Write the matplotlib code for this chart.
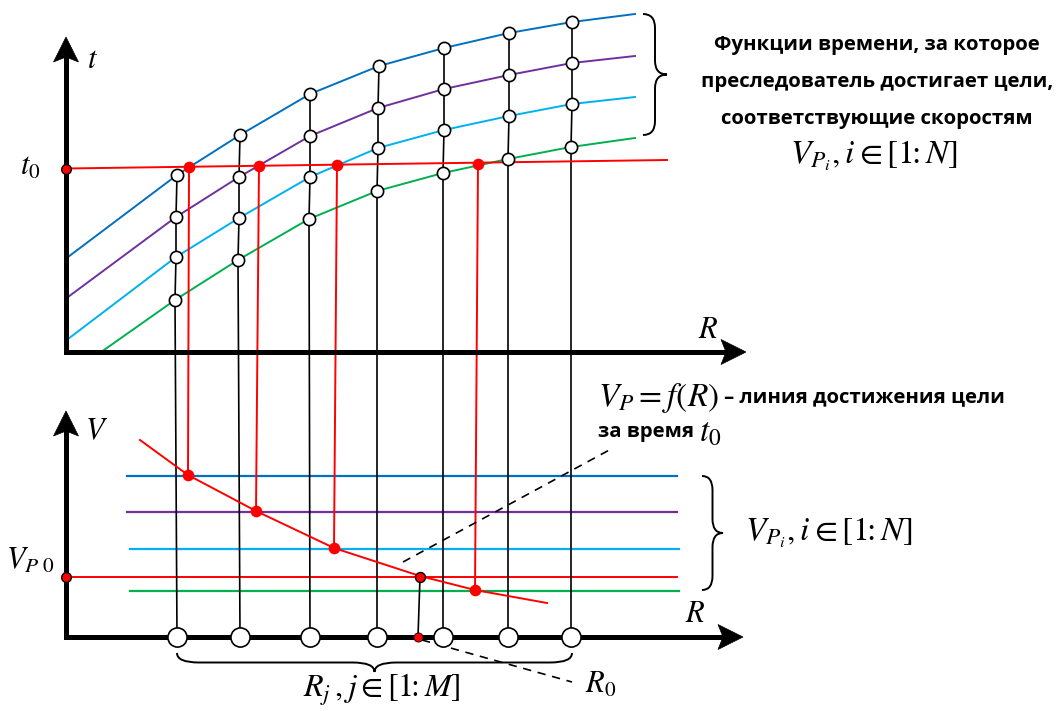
import numpy as np
import matplotlib
matplotlib.use('Agg')
import matplotlib.pyplot as plt
from matplotlib.path import Path
from matplotlib.patches import PathPatch, Polygon

plt.rcParams['mathtext.fontset'] = 'stix'
BOLD = ['Open Sans', 'DejaVu Sans']
MS = 22      # single-letter math labels
ML = 24      # longer math expressions
TS = 14.7    # bold russian text

blue = '#0070C0'
purple = '#7030A0'
cyan = '#00B0F0'
green = '#00B050'
red = '#FF0000'

# ---- top panel: time curves t(R) for each speed (diagram units, y grows down)
blue_x = [68, 177, 240, 310, 379, 444, 509, 572, 635]
blue_t = [257, 175, 135, 94, 66, 48, 33, 22, 14]
purple_x = [68, 176, 239, 310, 378, 444, 509, 572, 635]
purple_t = [297, 217, 177, 136, 108, 89, 75, 63, 56]
cyan_x = [68, 176, 239, 310, 378, 444, 509, 572, 635]
cyan_t = [339, 257, 218, 177, 148, 130, 116, 104, 97]
green_x = [104, 175, 238, 309, 377, 443, 508, 571, 635]
green_t = [350, 300, 260, 219, 191, 173, 159, 147, 138]

# grid R_j on the bottom axis
col_x = [177, 240, 310, 377, 443, 508, 571]

# t0 level and its crossings with the curves
t0_x = [66, 667]
t0_t = [168.5, 160]
hit_x = [189, 259, 337, 478]
hit_t = [167, 166, 165, 164]

# ---- bottom panel: speed levels V_Pi
lev_v = [476, 512, 549, 591]
lev_x0 = [127, 127, 130, 130]
lev_x1 = [677, 677, 679, 679]
lev_col = [blue, purple, cyan, green]
vp0_v = 577
vp0_x = [66, 677]

# V_P = f(R) line
f_x = [140, 188, 256, 334, 420, 475, 547]
f_v = [440, 475, 511, 548, 576, 590, 603]
hitv_x = [188, 256, 334, 475]
hitv_v = [475, 511, 548, 590]
R0_top = 420
R0_bot = 418

y_top_axis = 352
y_bot_axis = 637

fig = plt.figure(figsize=(10.64, 7.11), dpi=100)
ax = fig.add_axes([0, 0, 1, 1])
ax.set_xlim(0, 1064)
ax.set_ylim(711, 0)
ax.axis('off')


def axis_arrow(x0, y0, x1, y1):
    d = np.array([x1 - x0, y1 - y0], float)
    u = d / np.hypot(*d)
    n = np.array([-u[1], u[0]])
    tip = np.array([x1, y1], float)
    back = tip - 25 * u
    notch = tip - 20 * u
    ax.plot([x0, notch[0]], [y0, notch[1]], color='k', lw=3.6,
            solid_capstyle='projecting', zorder=6)
    ax.add_patch(Polygon([tip, back + 12.5 * n, notch, back - 12.5 * n],
                         closed=True, fc='k', ec='k', lw=0.5, zorder=6))


def brace(p0, p1, nrm, h, r, lw=1.4):
    p0 = np.array(p0, float)
    p1 = np.array(p1, float)
    L = np.hypot(*(p1 - p0))
    u = (p1 - p0) / L
    n = np.array(nrm, float)

    def P(s, t):
        return p0 + s * u + t * n
    verts = [P(0, 0), P(0, h / 2), P(r, h / 2), P(L / 2 - r, h / 2),
             P(L / 2, h / 2), P(L / 2, h), P(L / 2, h / 2), P(L / 2 + r, h / 2),
             P(L - r, h / 2), P(L, h / 2), P(L, 0)]
    codes = [Path.MOVETO, Path.CURVE3, Path.CURVE3, Path.LINETO,
             Path.CURVE3, Path.CURVE3, Path.CURVE3, Path.CURVE3,
             Path.LINETO, Path.CURVE3, Path.CURVE3]
    ax.add_patch(PathPatch(Path(verts, codes), fc='none', ec='k', lw=lw))


curves = [(blue_x, blue_t, blue), (purple_x, purple_t, purple),
          (cyan_x, cyan_t, cyan), (green_x, green_t, green)]

# top curves
for xs, ts, c in curves:
    ax.plot(xs, ts, color=c, lw=1.4, zorder=2)

# bottom levels
for v, a, b, c in zip(lev_v, lev_x0, lev_x1, lev_col):
    ax.plot([a, b], [v, v], color=c, lw=1.6, zorder=2)
ax.plot(vp0_x, [vp0_v, vp0_v], color=red, lw=1.4, zorder=2)

# black columns through the curve points down to R_j
for j in range(len(col_x)):
    xs = [cv[0][j + 1] for cv in curves] + [col_x[j]]
    ys = [cv[1][j + 1] for cv in curves] + [y_bot_axis]
    ax.plot(xs, ys, color='k', lw=1.2, zorder=3)

# red t0 line and projections
ax.plot(t0_x, t0_t, color=red, lw=1.4, zorder=4)
for xa, ta, xb, vb in zip(hit_x, hit_t, hitv_x, hitv_v):
    ax.plot([xa, xb], [ta, vb], color=red, lw=1.4, zorder=4)
ax.plot(f_x, f_v, color=red, lw=1.4, zorder=4)

# R0
ax.plot([R0_top, R0_bot], [vp0_v, y_bot_axis], color='k', lw=1.2, zorder=4)
ax.plot([403, 613], [562, 448], color='k', lw=1.2, ls=(0, (5, 4)), zorder=4)
ax.plot([422, 572], [640, 682], color='k', lw=1.2, ls=(0, (5, 4)), zorder=4)

# axes
axis_arrow(66, y_top_axis, 66, 37)
axis_arrow(66, y_top_axis, 746, y_top_axis)
axis_arrow(66, y_bot_axis, 66, 411)
axis_arrow(66, y_bot_axis, 743, y_bot_axis)

# markers
for xs, ts, c in curves:
    ax.plot(xs[1:8], ts[1:8], 'o', ms=8.8, mfc='white', mec='k', mew=1.2, zorder=7)
ax.plot(col_x, [y_bot_axis] * len(col_x), 'o', ms=13.8, mfc='white', mec='k',
        mew=1.2, zorder=7)
ax.plot(hit_x, hit_t, 'o', ms=8.4, color=red, mew=0, zorder=7)
ax.plot(hitv_x, hitv_v, 'o', ms=8.4, color=red, mew=0, zorder=7)
ax.plot([66, 66], [t0_t[0], vp0_v], 'o', ms=7.0, mfc=red, mec='k', mew=1.0,
        ls='none', zorder=8)
ax.plot([R0_top], [vp0_v], 'o', ms=7.2, mfc=red, mec='k', mew=1.0, zorder=8)
ax.plot([R0_bot], [y_bot_axis], 'o', ms=6.6, mfc=red, mec='k', mew=0.6, zorder=8)

# braces
brace((643, 14), (643, 135), (1, 0), 24, 14)
brace((702, 476), (702, 590), (1, 0), 21, 14)
brace((177, 653), (572, 653), (0, 1), 19, 22)

# labels
ax.text(93, 60, '$t$', fontsize=MS, ha='center', va='center')
ax.text(30, 167, '$t_0$', fontsize=MS, ha='center', va='center')
ax.text(708, 329, '$R$', fontsize=MS, ha='center', va='center')
ax.text(96, 431, '$V$', fontsize=MS, ha='center', va='center')
ax.text(30, 560, r'$V_{P\ 0}$', fontsize=MS, ha='center', va='center')
ax.text(695, 614, '$R$', fontsize=MS, ha='center', va='center')
ax.text(601, 684, '$R_0$', fontsize=MS, ha='center', va='center')
ax.text(382, 690, r'$R_j\,, j \in [1\!\!:M]$', fontsize=23,
        ha='center', va='center')
ax.text(745, 533, r'$V_{P_i}, i \in [1\!\!:N]$', fontsize=ML, ha='left', va='center')

block = ['Функции времени, за которое',
         'преследователь достигает цели,',
         'соответствующие скоростям']
for k, s in enumerate(block):
    ax.text(877, 45 + 37 * k, s, fontsize=TS, family=BOLD, weight='bold',
            ha='center', va='center')
ax.text(874, 156, r'$V_{P_i}, i \in [1\!\!:N]$', fontsize=ML, ha='center', va='center')

# annotation of f(R) line: math + bold text on one line
fig.canvas.draw()
rend = fig.canvas.get_renderer()
inv = ax.transData.inverted()
m1 = ax.text(598, 398, r'$V_P = f(R)$', fontsize=ML, ha='left', va='center')
bb = m1.get_window_extent(rend)
xr = inv.transform((bb.x1, bb.y0))[0]
ax.text(xr + 5, 397, '– линия достижения цели', fontsize=TS, family=BOLD,
        weight='bold', ha='left', va='center')
b2 = ax.text(598, 432, 'за время', fontsize=TS, family=BOLD, weight='bold',
             ha='left', va='center')
bb = b2.get_window_extent(rend)
xr = inv.transform((bb.x1, bb.y0))[0]
ax.text(xr + 5, 432, '$t_0$', fontsize=ML, ha='left', va='center')

fig.savefig('out.png', dpi=100)
